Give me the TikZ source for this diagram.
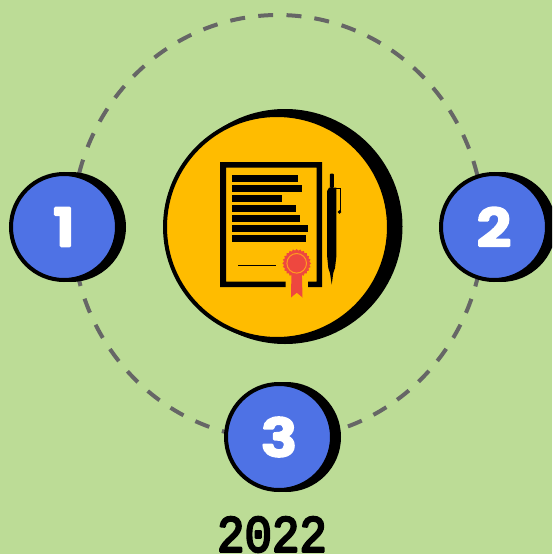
\documentclass[tikz,border=0pt]{standalone}
\usepackage{graphicx}
\usepackage{fontspec}
\newfontfamily\digitfont{Poppins}[UprightFont=* SemiBold]
\newfontfamily\yearfont{Liberation Mono}
\newcommand{\strokedtext}[2]{\special{pdf:code 2 Tr #1 w 1 j 1 J}#2\special{pdf:code 0 Tr}}
\newcommand{\widedigit}[1]{\scalebox{1.14}[1]{\strokedtext{2.6}{#1}}}
\definecolor{bgc}{HTML}{BCDC96}
\definecolor{bluec}{HTML}{4E72E5}
\definecolor{yelc}{HTML}{FFBC00}
\definecolor{ringc}{HTML}{666666}
\definecolor{sealc}{HTML}{EE473F}
\definecolor{sealo}{HTML}{FF9A1F}
\tikzset{
  x=1pt,y=-1pt,
  shadowdisc/.style={circle,fill=black,inner sep=0pt,minimum size=110pt},
  numdisc/.style={circle,draw=black,line width=4pt,fill=bluec,text=white,inner sep=0pt,minimum size=106pt,font=\digitfont\fontsize{52}{52}\selectfont},
  ringarc/.style={ringc,line width=4pt},
  docline/.style={fill=black}
}
\begin{document}
\begin{tikzpicture}
\path[fill=bgc] (0,0) rectangle (552,554);
\useasboundingbox (0,0) rectangle (552,554);
\clip (0,0) rectangle (552,554);
\draw[ringarc,dash pattern=on 15pt off 13.05pt,dash phase=19.55pt] (278,15) arc[start angle=270,end angle=450,x radius=205.5,y radius=212];
\draw[ringarc,dash pattern=on 15pt off 13.3pt,dash phase=23.5pt] (278,15) arc[start angle=270,end angle=90,x radius=205.5,y radius=212];
% centre disc
\node[circle,fill=black,inner sep=0pt,minimum size=235pt] (censhadow) at (285,226.5) {};
\node[circle,draw=black,line width=4pt,fill=yelc,inner sep=0pt,minimum size=224pt] (centre) at (277,227) {};
% number discs
\node[shadowdisc] (s1) at (71,227) {};
\node[numdisc] (n1) at (64,227) {\widedigit{1}};
\node[shadowdisc] (s2) at (501,227) {};
\node[numdisc] (n2) at (494,227) {\widedigit{2}};
\node[shadowdisc] (s3) at (286,437) {};
\node[numdisc] (n3) at (279,437) {\widedigit{3}};
% year
\node[font=\yearfont\fontsize{52}{52}\selectfont,inner sep=0pt,xscale=.88] (year) at (272,534.5) {\strokedtext{2.4}{2022}};
% document frame
\fill[black] (220,162) -- (322,162) -- (322,287) -- (308,287) -- (308,281.5) -- (316.5,281.5) -- (316.5,167.5) -- (226,167.5) -- (226,281.5) -- (285.5,281.5) -- (285.5,287) -- (220,287) -- cycle;
\foreach \yy/\xx in {175/298,185/302,195/282,205/296,215/300,225/308,235/306}
  \fill[docline] (232,\yy) rectangle (\xx,\yy+7);
\draw[black,line width=1.2pt] (238,265.7) -- (276,265.7);
% seal ribbon
\fill[sealc] (291.5,270) -- (301.8,270) -- (302.5,297.5) -- (296.8,292.7) -- (291,297.5) -- cycle;
% seal
\fill[sealc] plot[samples at={0,...,47}] ({296.7+(14.3-1.6*mod(\x,2))*cos(\x*7.5)},{263.3+(14.3-1.6*mod(\x,2))*sin(\x*7.5)}) -- cycle;
\draw[sealo,line width=1pt] (296.7,263.3) circle[radius=9.8];
% pen
\fill[black,rounded corners=1pt] (329.8,188) -- (329.8,173.5) -- (333.8,173.5) -- (333.8,188) -- cycle;
\fill[black] (327.2,191) -- (329,187.6) -- (336.3,187.6) -- (336.3,257) -- (335,268) -- (333.3,273) -- (331.7,284.5) -- (330,273) -- (328.3,268) -- (327.2,257) -- cycle;
\draw[black,line width=1.2pt] (336,188.2) -- (340.4,188.2) -- (340.4,212);
\fill[black] (339.4,212) circle[radius=1.9];
\end{tikzpicture}
\end{document}
